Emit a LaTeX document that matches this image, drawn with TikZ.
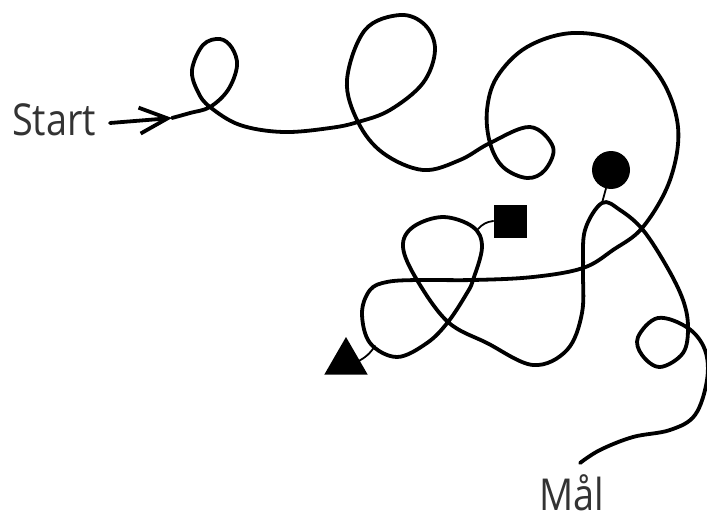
\documentclass[tikz,border=0pt]{standalone}
\usepackage{fontspec}
\newfontfamily\labelfont[FakeStretch=0.86]{Open Sans}
\usepackage{tikz}
\usetikzlibrary{arrows.meta}
\usetikzlibrary{shapes.geometric}

\begin{document}
\begin{tikzpicture}[x=1pt, y=-1pt, line cap=round, line join=round]
	\tikzstyle{walk}=[draw=black, line width=3.8pt]
	\tikzstyle{stem}=[draw=black, line width=1.8pt]
	\tikzstyle{label}=[font=\labelfont\fontsize{44}{50}\selectfont, text=black!80, inner sep=0pt, anchor=base west]
	\useasboundingbox (0,0) rectangle (707,519);

	% Labels
	\node[label] (start) at (12,135) {Start};
	\node[label] (goal) at (539,510) {Mål};

	% Markers
	\node[circle, fill=black, minimum size=38pt, inner sep=0pt] (dot) at (611,170) {};
	\node[rectangle, fill=black, minimum size=33pt, inner sep=0pt] (box) at (510,221) {};
	\node[regular polygon, regular polygon sides=3, fill=black, minimum size=50pt, inner sep=0pt] (tri) at (346,362) {};

	% Points on the walk
	\coordinate (a0) at (110,123);
	\coordinate (a1) at (172,118);
	\coordinate (dotend) at (602,203);
	\coordinate (boxend) at (478,229);
	\coordinate (triend) at (375,346);

	% Draw the walk
	\draw[walk, -{Straight Barb[length=28pt,width=26pt,line width=3.8pt]}] (a0) -- (a1);
	\draw[walk] plot[smooth, tension=0.6] coordinates {(a1) (190,113) (210,107) (228,90) (237,66) (232,48) (220,39) (203,45) (192,70) (198,92) (210,107) (240,125) (283,132) (330,128) (358,122) (390,110) (423,83) (435,50) (425,25) (400,15) (365,30) (347,80) (358,122) (383,153) (423,170) (460,160) (490,143) (530,127) (553,147) (545,170) (527,178) (503,167) (490,143) (487,110) (497,77) (527,47) (573,33) (623,43) (660,77) (678,127) (670,180) (643,227) (613,250) (583,268) (533,277) (473,280) (417,280) (387,282) (370,290) (362,313) (370,343) (397,357) (427,343) (448,322) (467,293) (473,280) (482,247) (473,227) (443,217) (413,227) (403,247) (417,280) (448,322) (487,343) (533,365) (567,350) (582,313) (583,268) (585,230) (602,203) (620,210) (643,230) (667,267) (683,300) (688,327) (683,353) (660,367) (642,355) (638,337) (658,318) (688,328) (705,350) (707,380) (695,415) (670,430) (633,437) (600,450) (580,463)};

	% Draw stems
	\draw[stem] (dot) -- (dotend);
	\draw[stem] (box.west) to[bend right=20] (boxend);
	\draw[stem] ([xshift=-4pt]tri.east) to[bend right=15] (triend);

\end{tikzpicture}
\end{document}
